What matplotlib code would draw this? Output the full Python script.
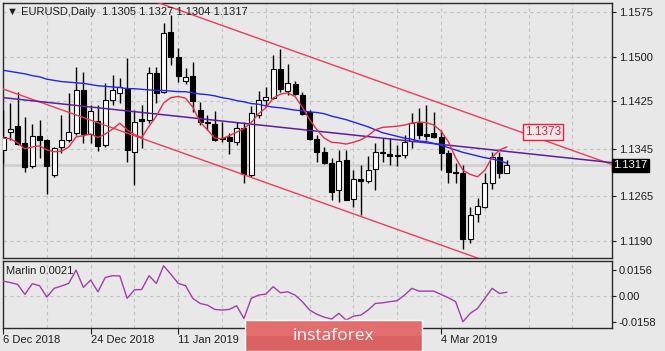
import numpy as np
import pandas as pd
import matplotlib
matplotlib.use("Agg")
import matplotlib.pyplot as plt
import matplotlib.transforms as mtransforms
from matplotlib.patches import Rectangle

plt.rcParams['font.family'] = ['Liberation Sans', 'DejaVu Sans']

# daily bars, no bar on 25 Dec and 1 Jan
dates = pd.bdate_range("2018-12-06", "2019-03-15").drop(pd.to_datetime(["2018-12-25", "2019-01-01"]))

opens = [1.1343, 1.1373, 1.1383, 1.1355, 1.1316, 1.1367, 1.1360, 1.1301, 1.1348, 1.1360,
         1.1372, 1.1444, 1.1370, 1.1392, 1.1351, 1.1427, 1.1439, 1.1447, 1.1340, 1.1395,
         1.1394, 1.1473, 1.1441, 1.1541, 1.1500, 1.1459, 1.1467, 1.1410, 1.1390, 1.1387,
         1.1363, 1.1365, 1.1357, 1.1380, 1.1301, 1.1402, 1.1427, 1.1430, 1.1479, 1.1442,
         1.1454, 1.1436, 1.1407, 1.1362, 1.1340, 1.1321, 1.1276, 1.1326, 1.1261, 1.1294,
         1.1291, 1.1311, 1.1340, 1.1336, 1.1335, 1.1335, 1.1358, 1.1388, 1.1370, 1.1372,
         1.1365, 1.1338, 1.1306, 1.1304, 1.1193, 1.1236, 1.1247, 1.1288, 1.1332, 1.1305]
highs = [1.1410, 1.1422, 1.1441, 1.1399, 1.1387, 1.1394, 1.1362, 1.1348, 1.1402, 1.1439,
         1.1483, 1.1474, 1.1419, 1.1419, 1.1456, 1.1469, 1.1464, 1.1498, 1.1410, 1.1419,
         1.1483, 1.1483, 1.1557, 1.1570, 1.1515, 1.1481, 1.1491, 1.1424, 1.1402, 1.1409,
         1.1390, 1.1372, 1.1390, 1.1390, 1.1417, 1.1442, 1.1449, 1.1503, 1.1513, 1.1488,
         1.1459, 1.1441, 1.1410, 1.1368, 1.1348, 1.1330, 1.1343, 1.1343, 1.1309, 1.1318,
         1.1333, 1.1355, 1.1363, 1.1363, 1.1351, 1.1369, 1.1405, 1.1413, 1.1419, 1.1407,
         1.1377, 1.1343, 1.1321, 1.1318, 1.1247, 1.1262, 1.1305, 1.1340, 1.1340, 1.1327]
lows = [1.1321, 1.1360, 1.1351, 1.1306, 1.1313, 1.1330, 1.1269, 1.1298, 1.1338, 1.1357,
        1.1368, 1.1355, 1.1355, 1.1341, 1.1348, 1.1419, 1.1422, 1.1323, 1.1284, 1.1346,
        1.1388, 1.1422, 1.1439, 1.1486, 1.1457, 1.1454, 1.1407, 1.1385, 1.1377, 1.1358,
        1.1357, 1.1336, 1.1351, 1.1288, 1.1298, 1.1397, 1.1415, 1.1429, 1.1441, 1.1436,
        1.1436, 1.1402, 1.1360, 1.1323, 1.1320, 1.1259, 1.1256, 1.1259, 1.1247, 1.1234,
        1.1288, 1.1276, 1.1323, 1.1318, 1.1316, 1.1330, 1.1346, 1.1362, 1.1360, 1.1363,
        1.1309, 1.1288, 1.1288, 1.1177, 1.1187, 1.1222, 1.1246, 1.1278, 1.1296, 1.1304]
closes = [1.1365, 1.1378, 1.1353, 1.1314, 1.1367, 1.1360, 1.1316, 1.1346, 1.1360, 1.1373,
          1.1444, 1.1370, 1.1409, 1.1350, 1.1427, 1.1444, 1.1449, 1.1343, 1.1390, 1.1392,
          1.1473, 1.1439, 1.1540, 1.1500, 1.1467, 1.1466, 1.1425, 1.1390, 1.1388, 1.1360,
          1.1362, 1.1358, 1.1380, 1.1303, 1.1405, 1.1427, 1.1432, 1.1479, 1.1446, 1.1456,
          1.1437, 1.1404, 1.1362, 1.1340, 1.1321, 1.1273, 1.1325, 1.1259, 1.1294, 1.1291,
          1.1309, 1.1340, 1.1338, 1.1333, 1.1333, 1.1357, 1.1388, 1.1368, 1.1367, 1.1365,
          1.1338, 1.1306, 1.1304, 1.1193, 1.1234, 1.1249, 1.1288, 1.1332, 1.1305, 1.1317]

# moving averages
ma_slow = [1.1477, 1.1475, 1.1473, 1.1471, 1.1468, 1.1466, 1.1462, 1.1460, 1.1458, 1.1457,
           1.1456, 1.1455, 1.1453, 1.1451, 1.1450, 1.1449, 1.1448, 1.1446, 1.1446, 1.1445,
           1.1444, 1.1443, 1.1443, 1.1442, 1.1441, 1.1441, 1.1439, 1.1437, 1.1436, 1.1434,
           1.1431, 1.1429, 1.1426, 1.1424, 1.1421, 1.1420, 1.1417, 1.1415, 1.1414, 1.1412,
           1.1410, 1.1409, 1.1407, 1.1406, 1.1404, 1.1400, 1.1397, 1.1394, 1.1390, 1.1386,
           1.1382, 1.1377, 1.1372, 1.1369, 1.1366, 1.1363, 1.1361, 1.1358, 1.1357, 1.1354,
           1.1351, 1.1347, 1.1343, 1.1339, 1.1336, 1.1333, 1.1330, 1.1328, 1.1325, 1.1321]
ma_fast = [1.1363, 1.1362, 1.1355, 1.1345, 1.1348, 1.1350, 1.1343, 1.1340, 1.1341, 1.1348,
           1.1365, 1.1367, 1.1370, 1.1364, 1.1370, 1.1378, 1.1388, 1.1377, 1.1369, 1.1364,
           1.1383, 1.1400, 1.1422, 1.1431, 1.1433, 1.1430, 1.1415, 1.1390, 1.1377, 1.1363,
           1.1362, 1.1367, 1.1373, 1.1379, 1.1389, 1.1404, 1.1414, 1.1430, 1.1437, 1.1439,
           1.1433, 1.1415, 1.1394, 1.1377, 1.1363, 1.1356, 1.1355, 1.1353, 1.1356, 1.1360,
           1.1367, 1.1377, 1.1381, 1.1382, 1.1383, 1.1385, 1.1388, 1.1390, 1.1389, 1.1385,
           1.1375, 1.1357, 1.1330, 1.1309, 1.1302, 1.1298, 1.1309, 1.1331, 1.1343, 1.1348]

marlin = [0.0089, 0.0080, 0.0069, 0.0008, 0.0073, 0.0061, -0.0008, 0.0045, 0.0059, 0.0075,
          0.0156, 0.0051, 0.0095, 0.0024, 0.0111, 0.0122, 0.0120, -0.0016, 0.0036, 0.0038,
          0.0122, 0.0075, 0.0182, 0.0130, 0.0075, 0.0061, -0.0016, -0.0047, -0.0057, -0.0083,
          -0.0087, -0.0083, -0.0061, -0.0138, -0.0016, 0.0004, 0.0010, 0.0055, 0.0018, 0.0024,
          0.0004, -0.0036, -0.0087, -0.0113, -0.0130, -0.0142, -0.0107, -0.0148, -0.0124, -0.0118,
          -0.0087, -0.0047, -0.0043, -0.0036, -0.0030, 0.0004, 0.0045, 0.0028, 0.0028, 0.0028,
          0.0008, -0.0012, -0.0036, -0.0158, -0.0107, -0.0077, -0.0016, 0.0045, 0.0014, 0.0021]

# trend lines (bar index, price)
upper_bars, upper_prices = [15, 84], [1.1618, 1.1316]
lower_bars, lower_prices = [-1, 66], [1.1450, 1.1157]
trend_bars, trend_prices = [0, 84], [1.1431, 1.1321]
target_price = 1.1373

price_ticks = [1.1575, 1.1500, 1.1425, 1.1345, 1.1265, 1.1190]
marlin_ticks = [0.0156, 0.0, -0.0158]
marlin_labels = ["0.0156", "0.00", "-0.0158"]

bg = "#e8e8e8"
grid_c = "#c2c2c2"
txt_c = "#1e1e1e"

fig = plt.figure(figsize=(6.65, 3.51), dpi=100, facecolor=bg)
ax = fig.add_axes([0.0038, 0.265, 0.9165, 0.7265])
ax2 = fig.add_axes([0.0038, 0.0655, 0.9165, 0.1909], sharex=ax)

x = np.arange(len(dates))
o, h, l, c = map(np.array, (opens, highs, lows, closes))
up = c >= o

for a in (ax, ax2):
    a.set_facecolor(bg)
    for s in a.spines.values():
        s.set_color("#2a2a2a")
        s.set_linewidth(1)
    a.set_xticks(np.arange(0, 84, 6), minor=True)
    a.grid(True, which="both", axis="x", color=grid_c, linestyle=(0, (3, 3)), lw=0.8)
    a.set_axisbelow(True)

# price pane
ax.set_xlim(-0.07, 83.42)
ax.set_ylim(1.11615, 1.15901)
ax.set_yticks(price_ticks)
ax.set_yticklabels([f"{p:.4f}" for p in price_ticks])
ax.yaxis.tick_right()
ax.grid(True, axis="y", color=grid_c, linestyle=(0, (3, 3)), lw=0.8)
ax.tick_params(axis="y", direction="out", length=3, width=0.8, pad=2, labelsize=8, colors=txt_c)
ax.tick_params(axis="x", which="both", length=0, labelbottom=False)

ax.axhline(closes[-1], color="#d0d0d0", lw=2, zorder=1)

ax.vlines(x, l, h, color="black", lw=1, zorder=3)
body_lo = np.minimum(o, c)
body_h = np.maximum(np.abs(c - o), 0.00002)
ax.bar(x, body_h, bottom=body_lo, width=0.68, color=np.where(up, "white", "black"),
       edgecolor="black", lw=0.8, zorder=4)

ax.plot(upper_bars, upper_prices, color="#ee3d5d", lw=1, zorder=5)
ax.plot(lower_bars, lower_prices, color="#ee3d5d", lw=1, zorder=5)
ax.plot(trend_bars, trend_prices, color="#5e1f9e", lw=1.1, zorder=5)
ax.plot(x, ma_slow, color="#2424f2", lw=1, zorder=6)
ax.plot(x, ma_fast, color="#e2304e", lw=1, zorder=6)

ax.text(71.5, target_price, f"{target_price:.4f}", color="#e8203c", fontsize=8.5,
        ha="left", va="center", zorder=8,
        bbox=dict(boxstyle="square,pad=0.15", fc="#eeeaea", ec="#e8203c", lw=1))

trans = mtransforms.blended_transform_factory(ax.transAxes, ax.transData)
ax.text(1.002, closes[-1], f"{closes[-1]:.4f}", transform=trans, color="white", fontsize=8,
        ha="left", va="center", clip_on=False, zorder=10,
        bbox=dict(boxstyle="square,pad=0.15", fc="black", ec="black"))

# indicator pane
ax2.set_ylim(-0.0196, 0.0211)
ax2.axhline(0, color=grid_c, linestyle=(0, (3, 3)), lw=0.8, zorder=1)
ax2.plot(x, marlin, color="#a23fa6", lw=1, zorder=4)
ax2.set_yticks(marlin_ticks)
ax2.set_yticklabels(marlin_labels)
ax2.yaxis.tick_right()
ax2.tick_params(axis="y", direction="out", length=3, width=0.8, pad=2, labelsize=8, colors=txt_c)
ax2.text(0.006, 0.85, f"Marlin {marlin[-1]:.4f}", transform=ax2.transAxes, fontsize=8,
         color=txt_c, va="center")

# every 12th bar gets a date; the ones under the logo stay blank
lab_idx = np.arange(0, len(dates), 12)
hidden = [36, 48]
ax2.set_xticks(lab_idx)
ax2.set_xticklabels(["" if i in hidden else f"{dates[i].day} {dates[i].strftime('%b %Y')}"
                     for i in lab_idx], ha="left")
ax2.tick_params(axis="x", which="major", direction="out", length=4, width=0.8, pad=1,
                labelsize=8, colors=txt_c)
ax2.tick_params(axis="x", which="minor", length=0)

fig.text(7 / 665, 1 - 12 / 351, "\u25bc EURUSD,Daily  1.1305 1.1327 1.1304 1.1317",
         fontsize=8, color=txt_c, va="center")

# logo
fig.patches.append(Rectangle((245 / 665, 0), 177 / 665, 15 / 351, transform=fig.transFigure,
                             fc="#d96363", ec="none", zorder=20))
fig.patches.append(Rectangle((245 / 665, 15 / 351), 177 / 665, 16 / 351, transform=fig.transFigure,
                             fc="#e46d6d", ec="none", zorder=20))
fig.patches.append(Rectangle((245 / 665, 0), 177 / 665, 31 / 351, transform=fig.transFigure,
                             fc="none", ec="white", lw=1, zorder=21))
fig.text(333 / 665, 1 - 336 / 351, "instaforex", color="white", fontsize=12.5,
         family="Open Sans", ha="center", va="center", zorder=22)

fig.savefig("out.png", dpi=100, facecolor=bg)
